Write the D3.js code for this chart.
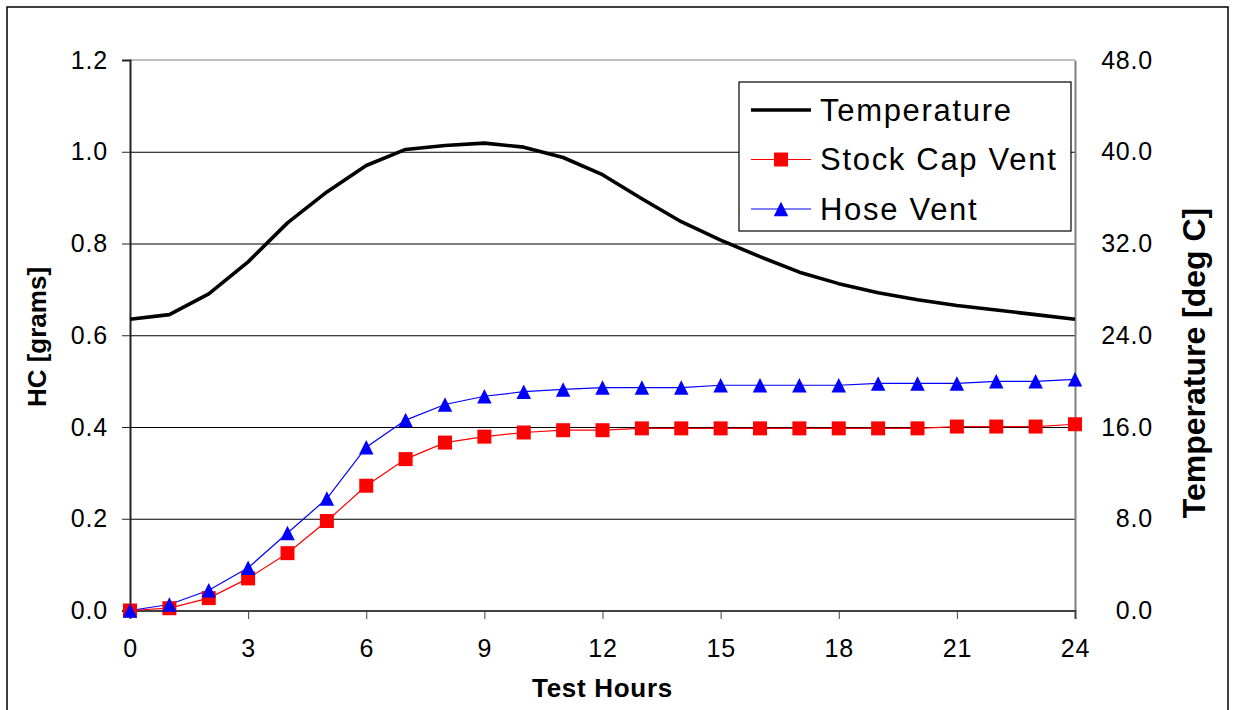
<!DOCTYPE html>
<html>
<head>
<meta charset="utf-8">
<script src="https://cdn.jsdelivr.net/npm/d3@7"></script>
<style>
  html, body { margin: 0; padding: 0; background: #fff; }
  svg text { font-family: "Liberation Sans", Arial, sans-serif; fill: #000; }
</style>
</head>
<body>
<div id="mainDiv"></div>
<script>
'use strict';

// data
var hours = [0, 1, 2, 3, 4, 5, 6, 7, 8, 9, 10, 11, 12, 13, 14, 15, 16, 17, 18, 19, 20, 21, 22, 23, 24];
var temperature = [25.4, 25.8, 27.6, 30.4, 33.8, 36.5, 38.8, 40.2, 40.55, 40.75, 40.4, 39.5, 38.0,
                   35.9, 33.9, 32.3, 30.85, 29.5, 28.5, 27.7, 27.1, 26.6, 26.2, 25.8, 25.4];
var stockCapVent = [0.0, 0.005, 0.027, 0.070, 0.125, 0.195, 0.272, 0.330, 0.366, 0.379, 0.388, 0.393, 0.393,
                    0.397, 0.397, 0.397, 0.397, 0.397, 0.397, 0.397, 0.397, 0.401, 0.401, 0.401, 0.406];
var hoseVent = [0.0, 0.013, 0.044, 0.093, 0.169, 0.244, 0.356, 0.415, 0.449, 0.467, 0.477, 0.482, 0.486,
                0.486, 0.486, 0.491, 0.491, 0.491, 0.491, 0.495, 0.495, 0.495, 0.4995, 0.4995, 0.504];
var hcTicks = [0, 0.2, 0.4, 0.6, 0.8, 1.0, 1.2];
var tempTicks = [0, 8, 16, 24, 32, 40, 48];
var hourTicks = [0, 3, 6, 9, 12, 15, 18, 21, 24];
var legendNames = ['Temperature', 'Stock Cap Vent', 'Hose Vent'];

var chart = {};

chart.width = 1233;
chart.height = 710;
chart.plot = {left: 130, right: 1075, top: 60, bottom: 610.5};

chart.xScale = d3.scaleLinear().domain([0, 24]).range([chart.plot.left, chart.plot.right]);
chart.yLeft  = d3.scaleLinear().domain([0, 1.2]).range([chart.plot.bottom, chart.plot.top]);
chart.yRight = d3.scaleLinear().domain([0, 48]).range([chart.plot.bottom, chart.plot.top]);

chart.squarePath = function(s) {
    var h = s / 2;
    return 'M' + (-h) + ',' + (-h) + 'H' + h + 'V' + h + 'H' + (-h) + 'Z';
};
chart.trianglePath = function(s) {
    var h = s / 2;
    return 'M0,' + (-h) + 'L' + h + ',' + h + 'L' + (-h) + ',' + h + 'Z';
};

chart.appendSVG = function(sel) {
    return d3.select(sel).append('svg')
        .attr('width', chart.width)
        .attr('height', chart.height);
};

chart.drawFrame = function(svg) {
    svg.append('rect')
        .attr('x', 7).attr('y', 7)
        .attr('width', 1221).attr('height', 740)
        .attr('fill', '#fff')
        .attr('stroke', '#000')
        .attr('stroke-width', 1.5);
};

chart.drawAxes = function(svg) {
    var p = chart.plot;

    // horizontal gridlines
    svg.append('g')
        .attr('transform', 'translate(' + p.left + ',0)')
        .call(d3.axisLeft(chart.yLeft).tickValues(hcTicks.slice(1, 6)).tickSize(-(p.right - p.left)).tickFormat(''))
        .call(function(g) {
            g.select('.domain').remove();
            g.selectAll('line').attr('stroke', '#000').attr('stroke-width', 1);
        });

    // top edge of plot area
    svg.append('line')
        .attr('x1', p.left).attr('x2', p.right)
        .attr('y1', p.top).attr('y2', p.top)
        .attr('stroke', '#808080').attr('stroke-width', 1.2);

    // left axis
    svg.append('g')
        .attr('transform', 'translate(' + p.left + ',0)')
        .call(d3.axisLeft(chart.yLeft).tickValues(hcTicks).tickSize(8).tickPadding(14).tickFormat(d3.format('.1f')))
        .call(function(g) {
            g.select('.domain').attr('stroke', '#222').attr('stroke-width', 2);
            g.selectAll('line').attr('stroke', '#222');
            g.selectAll('text').attr('font-size', 25).attr('font-family', null)
                .attr('letter-spacing', 0.8);
        });

    // right axis
    svg.append('g')
        .attr('transform', 'translate(' + p.right + ',0)')
        .call(d3.axisRight(chart.yRight).tickValues(tempTicks).tickSize(0).tickFormat(d3.format('.1f')))
        .call(function(g) {
            g.select('.domain').attr('stroke', '#808080').attr('stroke-width', 2);
            g.selectAll('text').attr('font-size', 25).attr('font-family', null)
                .attr('letter-spacing', 0.8)
                .attr('text-anchor', 'end').attr('x', 78);
        });

    // bottom axis
    svg.append('g')
        .attr('transform', 'translate(0,' + p.bottom + ')')
        .call(d3.axisBottom(chart.xScale).tickValues(hourTicks).tickSize(8.5).tickPadding(20))
        .call(function(g) {
            g.select('.domain').attr('stroke', '#404040').attr('stroke-width', 2);
            g.selectAll('line').attr('stroke', '#404040');
            g.selectAll('text').attr('font-size', 25).attr('font-family', null)
                .attr('letter-spacing', 0.8);
        });

    // axis titles
    svg.append('text')
        .attr('x', (p.left + p.right) / 2).attr('y', 697)
        .attr('text-anchor', 'middle')
        .attr('font-size', 26).attr('font-weight', 'bold')
        .attr('letter-spacing', 0.7)
        .text('Test Hours');

    svg.append('text')
        .attr('transform', 'translate(46,337) rotate(-90)')
        .attr('text-anchor', 'middle')
        .attr('font-size', 26).attr('font-weight', 'bold')
        .text('HC [grams]');

    svg.append('text')
        .attr('transform', 'translate(1205,363) rotate(-90)')
        .attr('text-anchor', 'middle')
        .attr('font-size', 32).attr('font-weight', 'bold')
        .text('Temperature [deg C]');
};

chart.drawSeries = function(svg) {
    var tempLine = d3.line()
        .x(function(d, i) { return chart.xScale(hours[i]); })
        .y(function(d) { return chart.yRight(d); });

    var hcLine = d3.line()
        .x(function(d, i) { return chart.xScale(hours[i]); })
        .y(function(d) { return chart.yLeft(d); });

    svg.append('path')
        .datum(temperature)
        .attr('d', tempLine)
        .attr('fill', 'none')
        .attr('stroke', '#000')
        .attr('stroke-width', 3.6)
        .attr('stroke-linejoin', 'round');

    svg.append('path')
        .datum(stockCapVent)
        .attr('d', hcLine)
        .attr('fill', 'none')
        .attr('stroke', '#ff0000')
        .attr('stroke-width', 1.2);

    svg.append('path')
        .datum(hoseVent)
        .attr('d', hcLine)
        .attr('fill', 'none')
        .attr('stroke', '#0000ff')
        .attr('stroke-width', 1.2);

    svg.append('g').selectAll('path')
        .data(stockCapVent)
        .enter().append('path')
        .attr('transform', function(d, i) { return 'translate(' + chart.xScale(hours[i]) + ',' + chart.yLeft(d) + ')'; })
        .attr('d', chart.squarePath(14))
        .attr('fill', '#ff0000');

    svg.append('g').selectAll('path')
        .data(hoseVent)
        .enter().append('path')
        .attr('transform', function(d, i) { return 'translate(' + chart.xScale(hours[i]) + ',' + chart.yLeft(d) + ')'; })
        .attr('d', chart.trianglePath(14.5))
        .attr('fill', '#0000ff');
};

chart.drawLegend = function(svg) {
    var lg = svg.append('g').attr('transform', 'translate(739,82)');

    lg.append('rect')
        .attr('width', 332).attr('height', 149)
        .attr('fill', '#fff')
        .attr('stroke', '#000')
        .attr('stroke-width', 1.2);

    var colors = ['#000', '#ff0000', '#0000ff'];
    var widths = [3.6, 1.2, 1.2];
    var rows = lg.selectAll('g.item')
        .data(legendNames)
        .enter().append('g')
        .attr('class', 'item')
        .attr('transform', function(d, i) { return 'translate(0,' + (28 + i * 49.5) + ')'; });

    rows.append('line')
        .attr('x1', 12).attr('x2', 72)
        .attr('stroke', function(d, i) { return colors[i]; })
        .attr('stroke-width', function(d, i) { return widths[i]; });

    rows.filter(function(d, i) { return i === 1; }).append('path')
        .attr('transform', 'translate(42,0)')
        .attr('d', chart.squarePath(14))
        .attr('fill', '#ff0000');

    rows.filter(function(d, i) { return i === 2; }).append('path')
        .attr('transform', 'translate(42,0)')
        .attr('d', chart.trianglePath(14.5))
        .attr('fill', '#0000ff');

    rows.append('text')
        .attr('x', 81).attr('dy', '0.35em')
        .attr('font-size', 31)
        .attr('letter-spacing', 1.7)
        .text(function(d) { return d; });
};

chart.start = function() {
    var svg = chart.appendSVG('#mainDiv');
    chart.drawFrame(svg);
    chart.drawAxes(svg);
    chart.drawSeries(svg);
    chart.drawLegend(svg);
};

window.onload = chart.start;
</script>
</body>
</html>
